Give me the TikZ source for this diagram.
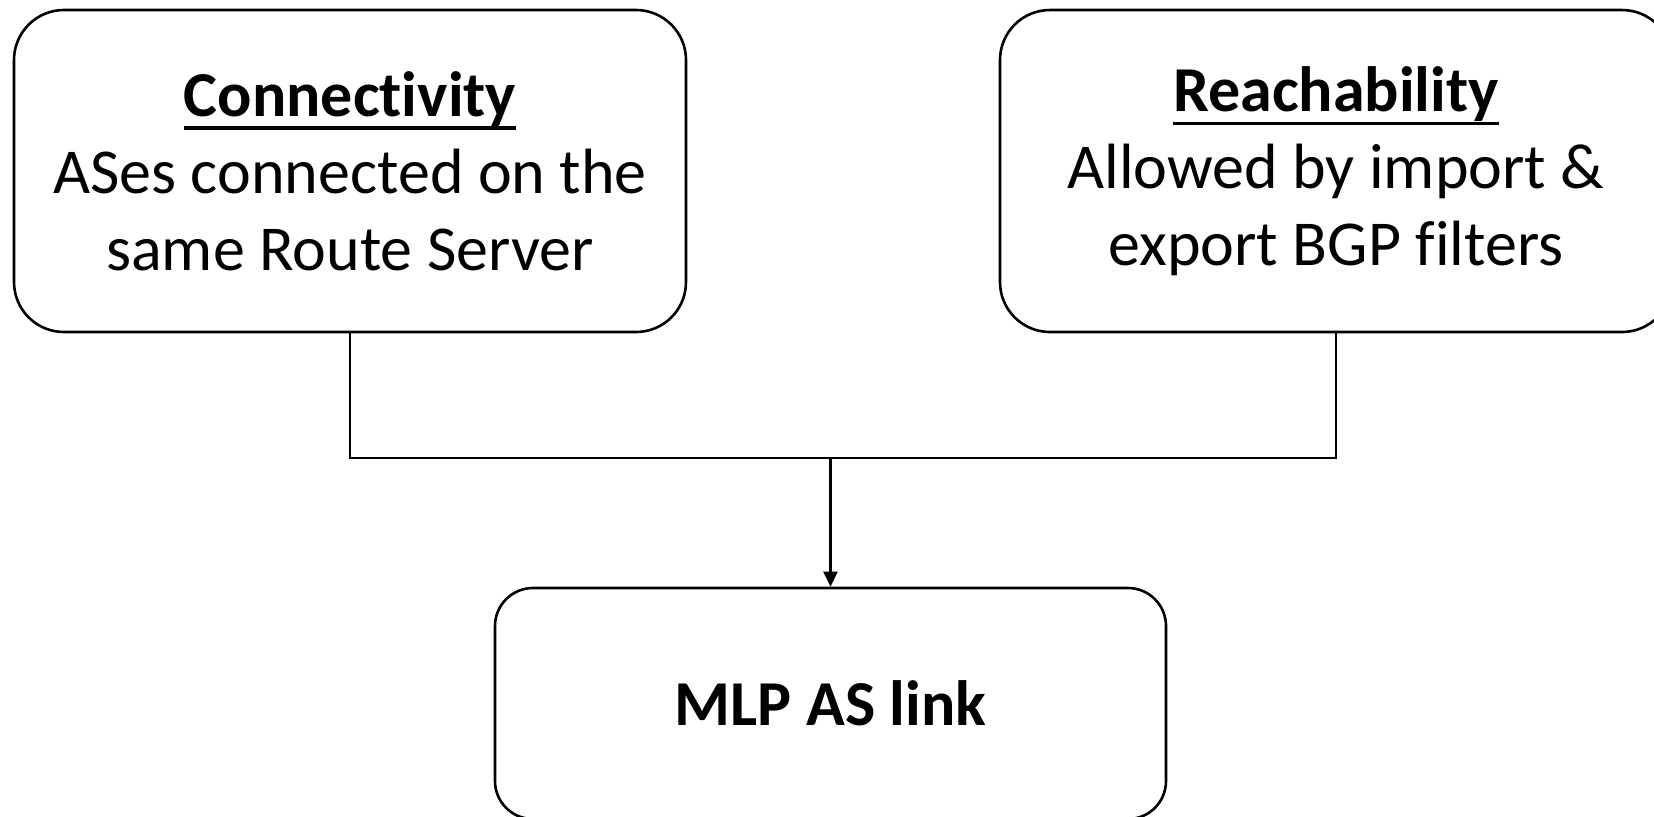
\documentclass[tikz,border=0pt]{standalone}
\usepackage{fontspec}
\setmainfont[Ligatures=NoCommon]{Carlito}
\usetikzlibrary{arrows.meta}
% heavy underline placed below the descenders
\newcommand\headline[1]{\setbox0\hbox{\textbf{#1}}\leavevmode\rlap{\rule[-6.8pt]{\wd0}{1.7pt}}\box0}
\tikzset{
  box/.style={draw=black, line width=1.3pt, rounded corners=25pt, align=center,
    inner sep=0pt, minimum width=336pt, minimum height=161pt,
    font=\fontsize{32}{38.5}\selectfont},
  linkbox/.style={box, rounded corners=19pt, minimum width=335.5pt, minimum height=115.5pt},
  wire/.style={draw=black, line width=1.1pt},
  arrowwire/.style={wire, -{Triangle[length=7.5pt,width=7pt]}}
}
\begin{document}
\begin{tikzpicture}[x=0.5pt, y=-0.5pt]
  \useasboundingbox (0,0) rectangle (1654,816);
  \clip (0,0) rectangle (1654,816);
  \node[box] (conn) at (350,171) {\headline{Connectivity}\\ASes connected on the\\same Route Server};
  \node[box] (reach) at (1336,171) {\headline{Reachability}\\Allowed by import \&\\export BGP filters};
  \node[linkbox] (mlp) at (830.5,703.5) {\textbf{MLP AS link}};
  \coordinate (join) at (830.5,458);
  \draw[wire] (conn.south) |- (join) -| (reach.south);
  \draw[arrowwire] (join) -- (mlp.north);
\end{tikzpicture}
\end{document}
